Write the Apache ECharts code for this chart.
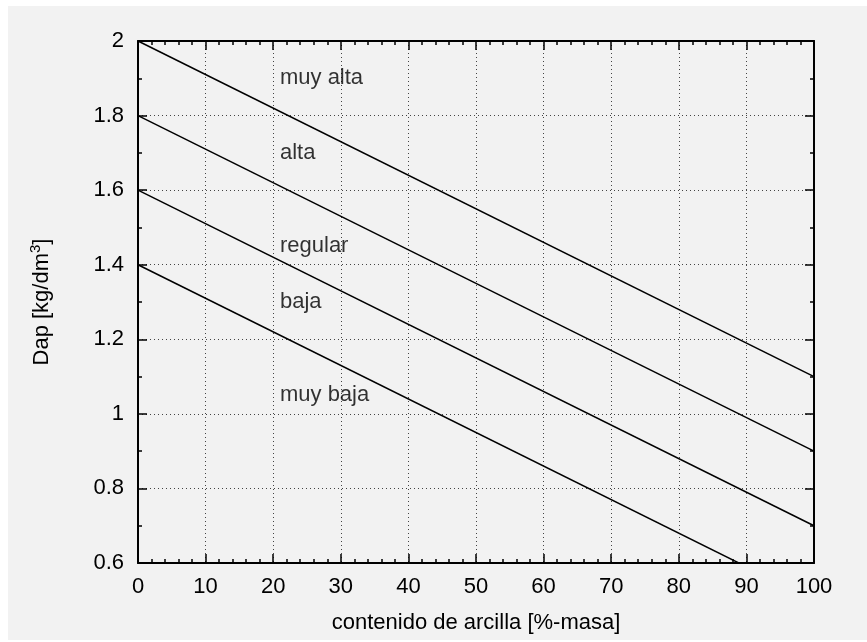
<!DOCTYPE html>
<html>
<head>
<meta charset="utf-8">
<script src="https://cdn.jsdelivr.net/npm/echarts@6/dist/echarts.min.js"></script>
<style>html,body{margin:0;padding:0;background:#fff}#c{width:867px;height:642px}</style>
</head>
<body>
<div id="c"></div>
<script>
// Data
var xTicks = [0, 10, 20, 30, 40, 50, 60, 70, 80, 90, 100];
var yTicks = [0.6, 0.8, 1, 1.2, 1.4, 1.6, 1.8, 2];
var lineMuyAlta = [[0, 2.0], [100, 1.1]];
var lineAlta = [[0, 1.8], [100, 0.9]];
var lineRegular = [[0, 1.6], [100, 0.7]];
var lineBaja = [[0, 1.4], [100, 0.5]];
var classNames = ['muy alta', 'alta', 'regular', 'baja', 'muy baja'];
var classX = [21, 21, 21, 21, 21];
var classY = [1.9, 1.7, 1.45, 1.3, 1.05];

var FONT = '"Liberation Sans", Arial, Helvetica, sans-serif';
var chart = echarts.init(document.getElementById('c'));

function mkLine(d) {
  return {
    type: 'line', data: d, symbol: 'none', clip: true,
    lineStyle: { color: '#000', width: 1.5 }, silent: true, z: 3
  };
}
var labelData = classNames.map(function (n, i) { return { name: n, value: [classX[i], classY[i]] }; });

var axisCommon = {
  axisLine: { show: true, onZero: false, lineStyle: { color: '#000', width: 2 } },
  axisTick: { show: true, inside: true, length: 9, lineStyle: { color: '#000', width: 1.5 } },
  minorTick: { show: true, length: 4, lineStyle: { color: '#000', width: 1.5 } }
};

chart.setOption({
  animation: false,
  backgroundColor: '#ffffff',
  graphic: [{ type: 'rect', left: 8, top: 6, shape: { x: 0, y: 0, width: 859, height: 634 }, style: { fill: '#f2f2f2' }, z: -10 }],
  grid: { left: 138, right: 53, top: 41, bottom: 79, containLabel: false },
  xAxis: [
    Object.assign({}, axisCommon, {
      type: 'value', min: xTicks[0], max: xTicks[xTicks.length - 1], interval: 10,
      minorTick: Object.assign({}, axisCommon.minorTick, { splitNumber: 5 }),
      name: 'contenido de arcilla [%-masa]', nameLocation: 'middle', nameGap: 49,
      nameTextStyle: { fontFamily: FONT, fontSize: 22, color: '#000' },
      axisLabel: { fontFamily: FONT, fontSize: 22, color: '#000', margin: 13 },
      splitLine: { show: true, lineStyle: { color: '#444', width: 1, type: [1, 3] } }
    }),
    Object.assign({}, axisCommon, {
      type: 'value', position: 'top', min: 0, max: 100, interval: 10,
      minorTick: Object.assign({}, axisCommon.minorTick, { splitNumber: 5 }),
      axisLabel: { show: false }, splitLine: { show: false }
    })
  ],
  yAxis: [
    Object.assign({}, axisCommon, {
      type: 'value', min: yTicks[0], max: yTicks[yTicks.length - 1], interval: 0.2,
      minorTick: Object.assign({}, axisCommon.minorTick, { splitNumber: 2 }),
      name: 'Dap [kg/dm{sup|3}]', nameLocation: 'middle', nameGap: 83,
      nameTextStyle: {
        fontFamily: FONT, fontSize: 22, color: '#000',
        rich: { sup: { fontFamily: FONT, fontSize: 15, color: '#000', verticalAlign: 'top', padding: [0, 0, 12, 0] } }
      },
      axisLabel: { fontFamily: FONT, fontSize: 22, color: '#000', margin: 14 },
      splitLine: { show: true, lineStyle: { color: '#444', width: 1, type: [1, 3] } }
    }),
    Object.assign({}, axisCommon, {
      type: 'value', position: 'right', min: 0.6, max: 2, interval: 0.2,
      minorTick: Object.assign({}, axisCommon.minorTick, { splitNumber: 2 }),
      axisLabel: { show: false }, splitLine: { show: false }
    })
  ],
  series: [
    mkLine(lineMuyAlta), mkLine(lineAlta), mkLine(lineRegular), mkLine(lineBaja),
    {
      type: 'scatter', data: labelData, symbolSize: 0, silent: true, z: 4,
      label: {
        show: true, position: 'right', distance: 0, formatter: '{b}',
        fontFamily: FONT, fontSize: 22, color: '#000'
      }
    }
  ]
});
</script>
</body>
</html>
